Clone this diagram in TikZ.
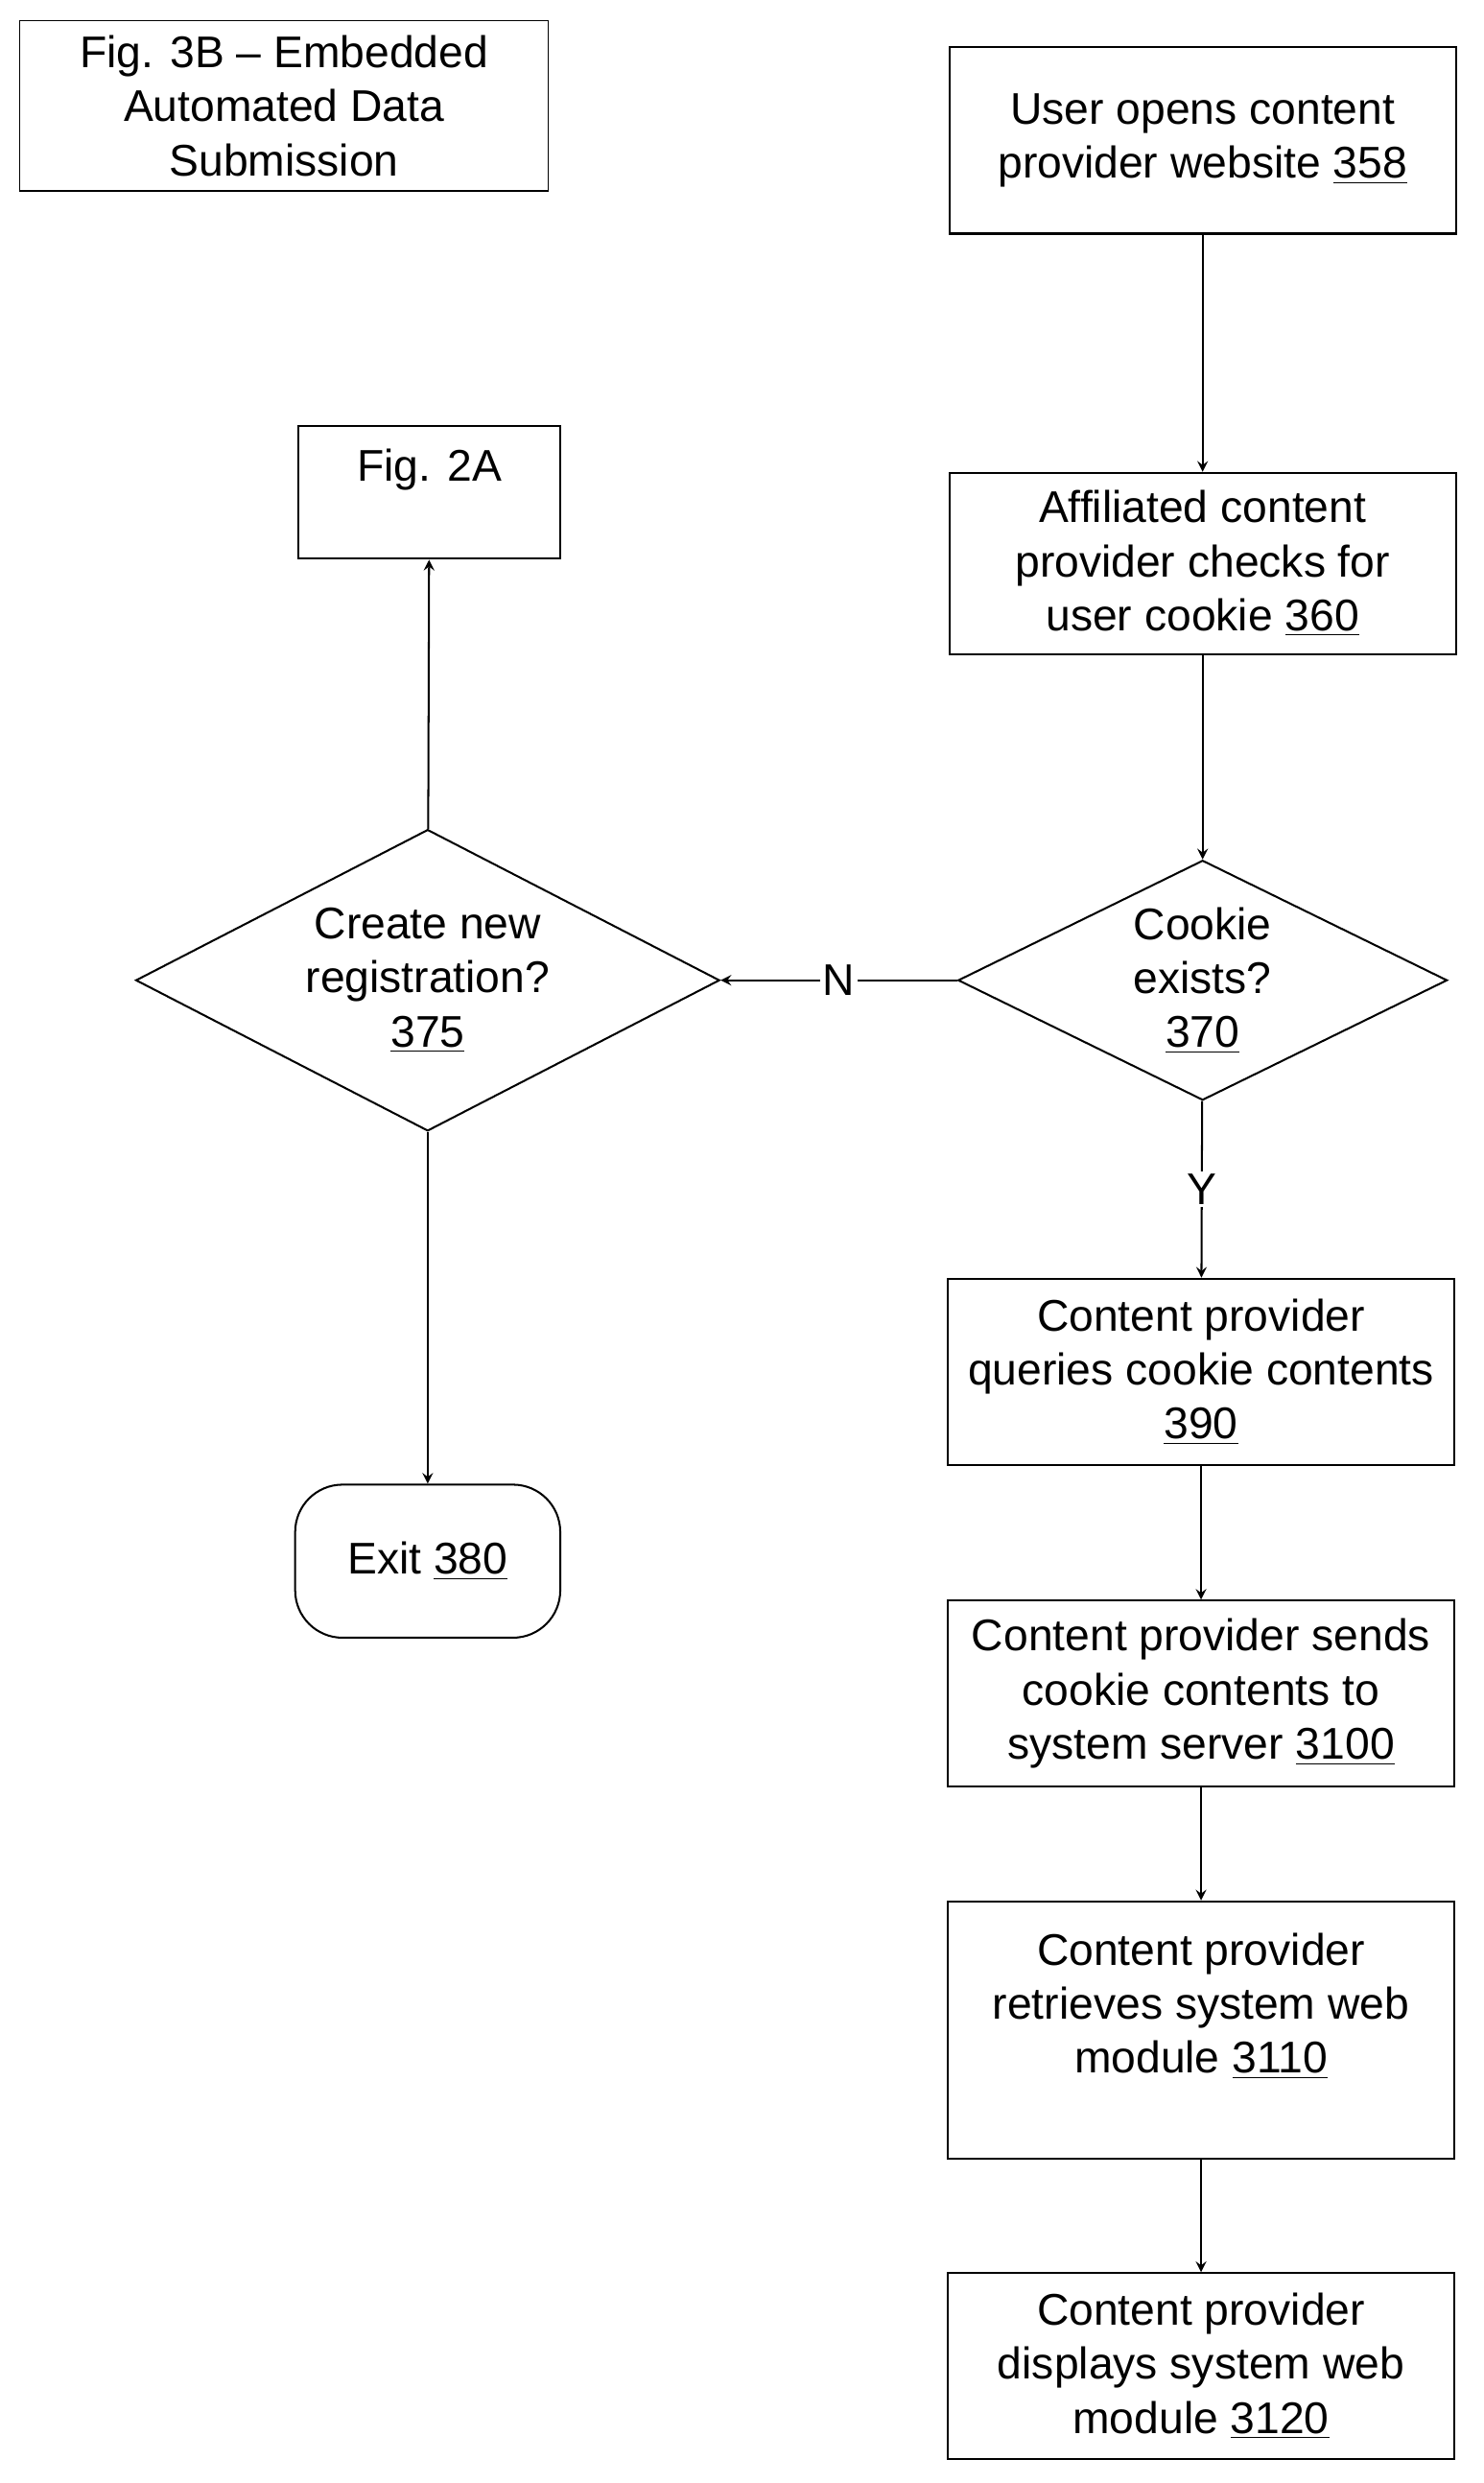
\documentclass[tikz,border=0pt]{standalone}
\usepackage{fontspec}
\setmainfont{Liberation Sans}
\usetikzlibrary{shapes.geometric}

\tikzset{
  stepbox/.style={draw, line width=0.7pt, rectangle, align=center, minimum width=6.42cm, minimum height=2.36cm},
  choice/.style={draw, line width=0.7pt, diamond, align=center, inner sep=0pt},
  flow/.style={->, >={stealth[scale=1.4]}, line width=0.7pt},
}

\begin{document}
\begin{tikzpicture}[x=0.02cm, y=-0.02cm, font=\fontsize{16}{19.5}\selectfont]
      \useasboundingbox (0,0) rectangle (940,1573);

      \node[stepbox, line width=0.4pt, minimum width=6.7cm, minimum height=2.16cm] (title) at (180,67) {Fig. 3B -- Embedded\\Automated Data\\Submission};
      \node[stepbox] (open) at (762,89) {User opens content\\provider website \underline{358}};
      \node[stepbox, minimum width=3.32cm, minimum height=1.68cm] (figA) at (272,312) {Fig. 2A\\~};
      \node[stepbox, minimum height=2.3cm] (check) at (762,357) {Affiliated content\\provider checks for\\user cookie \underline{360}};
      \node[choice, aspect=2.04, minimum width=6.2cm, minimum height=3.04cm] (exists) at (762,621) {Cookie\\exists?\\\underline{370}};
      \node[choice, aspect=1.94, minimum width=7.4cm, minimum height=3.82cm] (newreg) at (271,621) {Create new\\registration?\\\underline{375}};
      \node[draw, line width=0.7pt, rounded corners=0.6cm, minimum width=3.36cm, minimum height=1.94cm] (exit) at (271,989) {Exit \underline{380}};
      \node[stepbox] (query) at (761,869) {Content provider\\queries cookie contents\\\underline{390}};
      \node[stepbox] (send) at (761,1073) {Content provider sends\\cookie contents to\\system server \underline{3100}};
      \node[stepbox, minimum height=3.26cm] (fetch) at (761,1286) {Content provider\\retrieves system web\\module \underline{3110}\\~};
      \node[stepbox] (show) at (761,1499) {Content provider\\displays system web\\module \underline{3120}};

      \draw[flow] (open) -- (check);
      \draw[flow] (check) -- (exists);
      \draw[flow] (exists) -- node[fill=white, inner sep=1pt] {N} (newreg);
      \draw[flow] (exists) -- node[fill=white, inner sep=1pt, pos=0.5] {Y} (query);
      \draw[flow] (newreg) -- (figA);
      \draw[flow] (newreg) -- (exit);
      \draw[flow] (query) -- (send);
      \draw[flow] (send) -- (fetch);
      \draw[flow] (fetch) -- (show);
\end{tikzpicture}
\end{document}
